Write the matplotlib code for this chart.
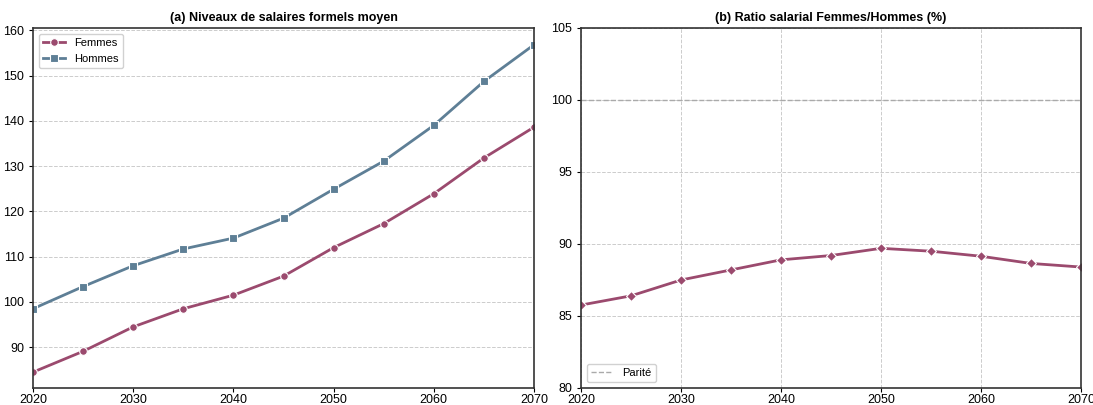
import matplotlib
matplotlib.use("Agg")
import matplotlib.pyplot as plt

plt.rcParams['font.family'] = ['Liberation Sans', 'DejaVu Sans']

years = [2020, 2025, 2030, 2035, 2040, 2045, 2050, 2055, 2060, 2065, 2070]
femmes = [84.5, 89.1, 94.5, 98.5, 101.5, 105.7, 112.0, 117.3, 123.9, 131.8, 138.6]
hommes = [98.5, 103.4, 108.0, 111.7, 114.1, 118.5, 124.9, 131.1, 139.0, 148.7, 156.8]
ratio = [85.76, 86.4, 87.5, 88.2, 88.9, 89.2, 89.7, 89.5, 89.15, 88.65, 88.4]
parite = 100

c_f = '#9b4a6e'
c_h = '#5e7f96'

fig = plt.figure(figsize=(10.93, 4.05), dpi=100)
W, H = 1093, 405
ax1 = fig.add_axes([33 / W, 1 - 388 / H, (534 - 33) / W, (388 - 28) / H])
ax2 = fig.add_axes([581 / W, 1 - 388 / H, (1081 - 581) / W, (388 - 28) / H])

fig.suptitle("Figure : Projection des salaires formels par genre (scénario de référence, 2020-2070)",
             fontsize=15, fontweight='bold', y=1.047)

ax1.plot(years, femmes, color=c_f, lw=2, marker='o', ms=5.5, mec='white', mew=0.8, label='Femmes')
ax1.plot(years, hommes, color=c_h, lw=2, marker='s', ms=5.5, mec='white', mew=0.8, label='Hommes')
ax1.set_xlim(2020, 2070)
ax1.set_ylim(81, 160.5)
ax1.set_yticks([90, 100, 110, 120, 130, 140, 150, 160])
ax1.set_xticks([2020, 2030, 2040, 2050, 2060, 2070])
ax1.grid(axis='y', ls='--', color='#cccccc', lw=0.7)
ax1.set_axisbelow(True)
ax1.set_title('(a) Niveaux de salaires formels moyen', fontsize=9, fontweight='bold', pad=5)
ax1.legend(loc='upper left', fontsize=8, framealpha=0.9, edgecolor='#cccccc')

ax2.plot(years, ratio, color=c_f, lw=2, marker='D', ms=5, mec='white', mew=0.8)
ax2.axhline(parite, color='#aaaaaa', ls='--', lw=1, label='Parité')
ax2.set_xlim(2020, 2070)
ax2.set_ylim(80, 105)
ax2.set_yticks([80, 85, 90, 95, 100, 105])
ax2.set_xticks([2020, 2030, 2040, 2050, 2060, 2070])
ax2.grid(ls='--', color='#cccccc', lw=0.7)
ax2.set_axisbelow(True)
ax2.set_title('(b) Ratio salarial Femmes/Hommes (%)', fontsize=9, fontweight='bold', pad=5)
ax2.legend(loc='lower left', fontsize=8, framealpha=0.9, edgecolor='#cccccc')

for ax in (ax1, ax2):
    ax.tick_params(labelsize=9, length=3)
    ax.tick_params(axis='x', pad=1)
    for s in ax.spines.values():
        s.set_color('#333333')
        s.set_linewidth(1.2)

fig.savefig('out.png', dpi=100)
